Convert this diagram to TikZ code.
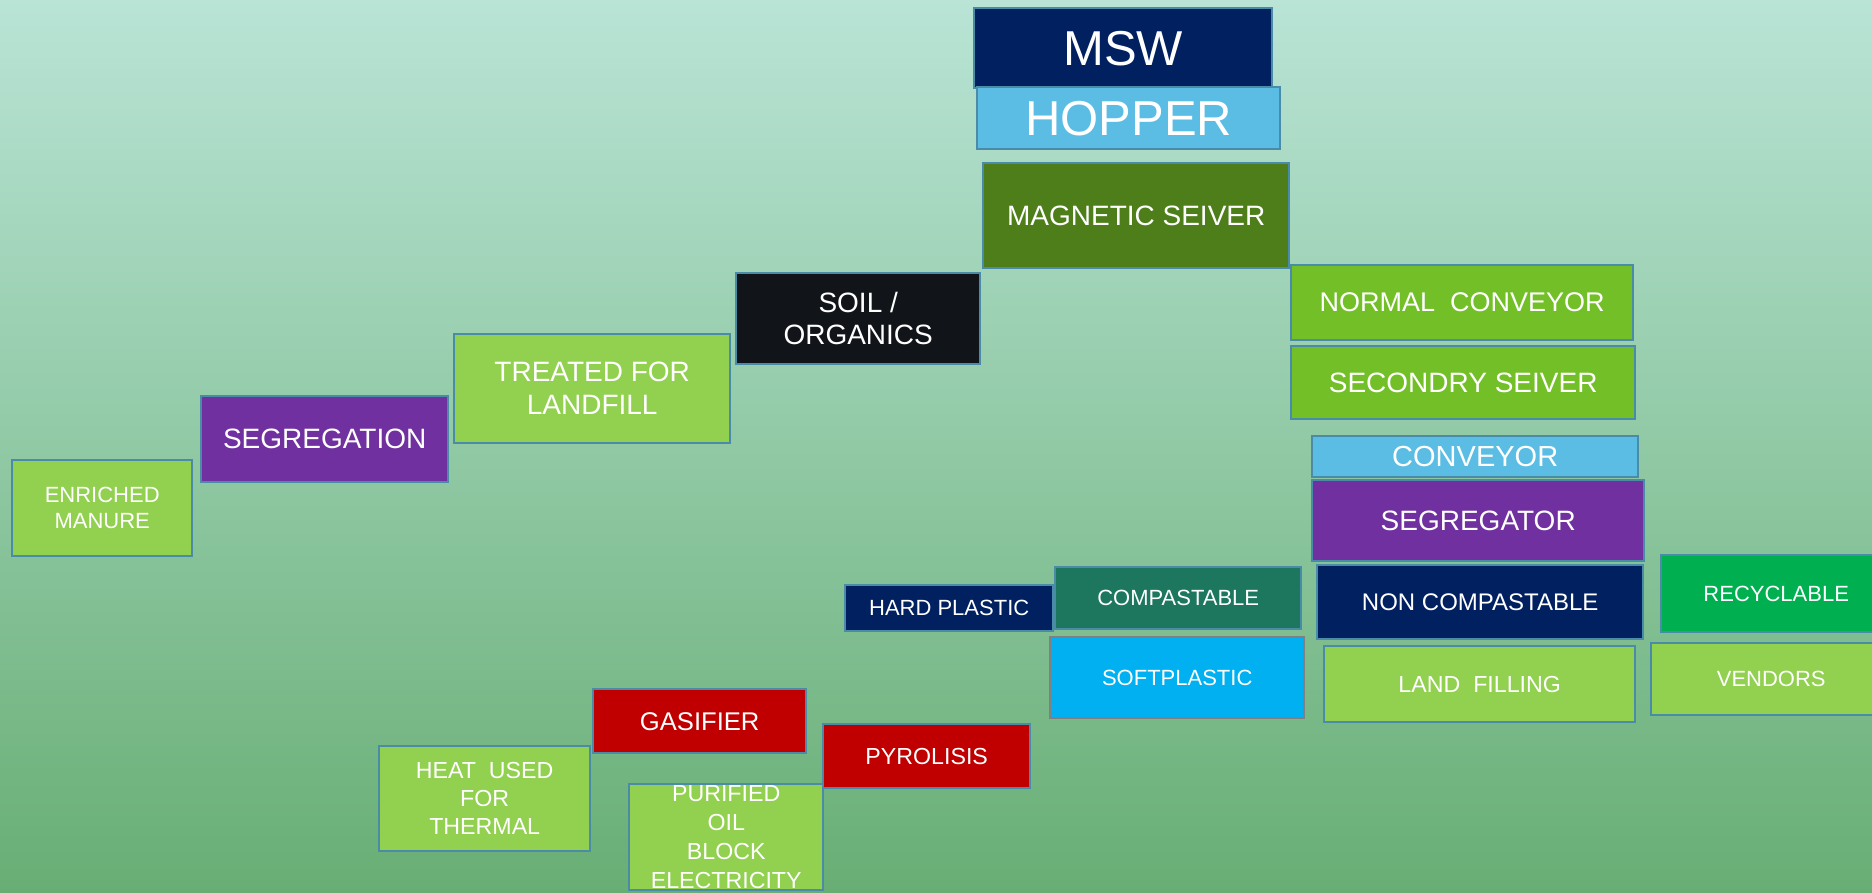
\documentclass[tikz,border=0pt]{standalone}
\usepackage{fontspec}
\setmainfont{Liberation Sans}
\definecolor{bgtop}{HTML}{B9E4D6}
\definecolor{bgmid}{HTML}{9CCFAE}
\definecolor{bgbot}{HTML}{68AE74}
\definecolor{edge}{HTML}{4A8BA8}
\definecolor{navy}{HTML}{002060}
\definecolor{sky}{HTML}{5BBDE4}
\definecolor{moss}{HTML}{4D7E1A}
\definecolor{leaf}{HTML}{73BF28}
\definecolor{lgreen}{HTML}{92D050}
\definecolor{grape}{HTML}{7030A0}
\definecolor{emerald}{HTML}{00B050}
\definecolor{teal}{HTML}{1D765E}
\definecolor{azure}{HTML}{00B0F0}
\definecolor{coal}{HTML}{111419}
\definecolor{brick}{HTML}{C00000}

\begin{document}
\begin{tikzpicture}[x=0.5pt,y=-0.5pt,
    box/.style={draw=edge,line width=1.2pt,anchor=north west,inner sep=0pt,text=white,align=center},
    txtbig/.style={font=\fontsize{24.5}{29}\selectfont},
    txtmid/.style={font=\fontsize{14}{16.5}\selectfont},
    txtsmall/.style={font=\fontsize{11}{13}\selectfont},
    txtnorm/.style={font=\fontsize{11.6}{14}\selectfont}]

\useasboundingbox (0,0) rectangle (1872,893);
\shade [top color=bgtop,middle color=bgmid,bottom color=bgbot] (0,0) rectangle (1872,893);

% main line
\node [box,txtbig,fill=navy,minimum width=149pt,minimum height=40pt] (msw) at (973,7) {MSW};
\node [box,txtbig,fill=sky,minimum width=151.5pt,minimum height=31pt] (hopper) at (976,86) {HOPPER};
\node [box,txtmid,fill=moss,minimum width=153pt,minimum height=52.5pt] (magnetic) at (982,162) {MAGNETIC SEIVER};
\node [box,font=\fontsize{13.5}{16}\selectfont,fill=leaf,minimum width=171pt,minimum height=37.5pt] (normal) at (1290,264) {NORMAL\ \ CONVEYOR};
\node [box,txtmid,fill=leaf,minimum width=172pt,minimum height=36.5pt] (secondry) at (1290,345) {SECONDRY SEIVER};
\node [box,font=\fontsize{14.5}{17}\selectfont,fill=sky,minimum width=163pt,minimum height=20.5pt] (conveyor) at (1311,435) {CONVEYOR};
\node [box,txtmid,fill=grape,minimum width=166pt,minimum height=40.5pt] (segregator) at (1311,479) {SEGREGATOR};
\node [box,font=\fontsize{12}{14}\selectfont,fill=navy,minimum width=163pt,minimum height=37pt] (noncomp) at (1316,564) {NON COMPASTABLE};
\node [box,txtnorm,fill=lgreen,minimum width=155.5pt,minimum height=38pt] (landfill) at (1323,645) {LAND\ \ FILLING};
\node [box,txtsmall,fill=emerald,minimum width=115pt,minimum height=38.5pt] (recyclable) at (1660,554) {RECYCLABLE};
\node [box,txtsmall,fill=lgreen,minimum width=120pt,minimum height=36pt] (vendors) at (1650,642) {VENDORS};

% compastable branch
\node [box,txtsmall,fill=teal,minimum width=123pt,minimum height=31pt] (compastable) at (1054,566) {COMPASTABLE};
\node [box,txtsmall,fill=navy,minimum width=104pt,minimum height=23pt] (hard) at (844,584) {HARD PLASTIC};
\node [box,txtsmall,fill=azure,draw=gray,minimum width=127pt,minimum height=40.5pt] (soft) at (1049,636) {SOFTPLASTIC};

% soil branch
\node [box,font=\fontsize{14}{16}\selectfont,fill=coal,minimum width=122pt,minimum height=45.5pt] (soil) at (735,272) {SOIL /\\ORGANICS};
\node [box,txtmid,fill=lgreen,minimum width=138pt,minimum height=54.5pt] (treated) at (453,333) {TREATED FOR\\LANDFILL};
\node [box,txtmid,fill=grape,minimum width=123.5pt,minimum height=43pt] (segregation) at (200,395) {SEGREGATION};
\node [box,txtsmall,fill=lgreen,minimum width=90pt,minimum height=48pt] (manure) at (11,459) {ENRICHED\\MANURE};

% plastics to energy
\node [box,font=\fontsize{12.8}{15}\selectfont,fill=brick,minimum width=106.5pt,minimum height=32pt] (gasifier) at (592,688) {GASIFIER};
\node [box,txtnorm,fill=lgreen,minimum width=105.5pt,minimum height=52.5pt] (heat) at (378,745) {HEAT\ \ USED\\FOR\\THERMAL};
\node [box,txtnorm,fill=lgreen,minimum width=97pt,minimum height=53pt] (purified) at (628,783) {};
\node [box,txtnorm,fill=brick,minimum width=103.5pt,minimum height=32pt] (pyrolisis) at (822,723) {PYROLISIS};
\node [txtnorm,text=white,align=center,inner sep=0pt,anchor=north,font=\fontsize{11.6}{14.5}\selectfont] (purtext) at ([yshift=-1pt]purified.north) {PURIFIED\\OIL\\BLOCK\\ELECTRICITY};

\end{tikzpicture}
\end{document}
